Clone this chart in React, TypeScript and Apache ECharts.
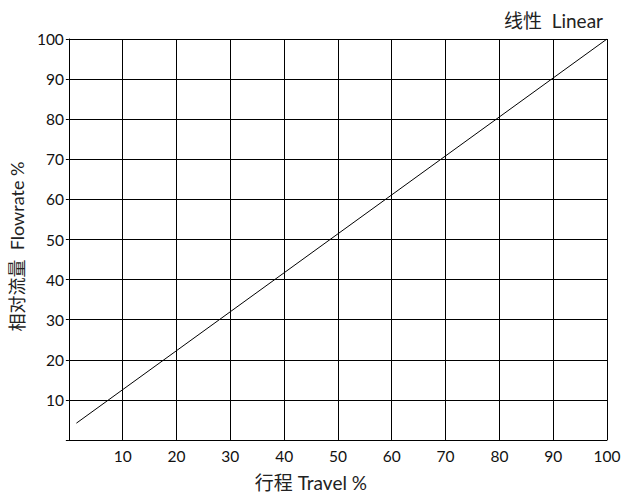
import React, { useEffect, useRef } from "react";
import * as echarts from "echarts";

const travel = [1.4, 100];
const flowrate = [4.2, 100];
const xTickLabels = ["10", "20", "30", "40", "50", "60", "70", "80", "90", "100"];
const yTickLabels = ["10", "20", "30", "40", "50", "60", "70", "80", "90", "100"];
const titleText = "线性  Linear";
const xName = "行程 Travel %";
const yName = "相对流量  Flowrate %";

const FONT = "Lato, 'Noto Sans CJK SC', sans-serif";

export default function App() {
  const ref = useRef<HTMLDivElement>(null);
  useEffect(() => {
    if (!ref.current) return;
    const chart = echarts.init(ref.current, null, { renderer: "svg" });
    const data = travel.map((x, i) => [x, flowrate[i]]);
    chart.setOption({
      animation: false,
      backgroundColor: "#ffffff",
      title: {
        text: titleText,
        right: 22,
        top: 6,
        textStyle: { fontFamily: FONT, fontSize: 19, fontWeight: "normal", color: "#222" },
      },
      grid: { left: 67, top: 39, right: 23, bottom: 57 },
      xAxis: {
        type: "value",
        min: 0,
        max: 100,
        interval: 10,
        name: xName,
        nameLocation: "middle",
        nameGap: 33,
        nameTextStyle: { fontFamily: FONT, fontSize: 19, color: "#222", padding: [0, 54, 0, 0] },
        axisLine: { show: true, lineStyle: { color: "#000", width: 1 } },
        axisTick: { show: false },
        splitLine: { show: true, lineStyle: { color: "#000", width: 1 } },
        axisLabel: {
          fontFamily: FONT,
          fontSize: 15.5,
          color: "#111",
          margin: 8,
          formatter: (v: number) => (xTickLabels.includes(String(v)) ? String(v) : ""),
        },
      },
      yAxis: {
        type: "value",
        min: 0,
        max: 100,
        interval: 10,
        name: yName,
        nameLocation: "middle",
        nameRotate: 90,
        nameGap: 34,
        nameTextStyle: { fontFamily: FONT, fontSize: 18, color: "#222", padding: [0, 14, 0, 0] },
        axisLine: { show: true, lineStyle: { color: "#000", width: 1 } },
        axisTick: { show: true, length: 3, lineStyle: { color: "#000" } },
        splitLine: { show: true, lineStyle: { color: "#000", width: 1 } },
        axisLabel: {
          fontFamily: FONT,
          fontSize: 15.5,
          color: "#111",
          margin: 5,
          formatter: (v: number) => (yTickLabels.includes(String(v)) ? String(v) : ""),
        },
      },
      series: [
        {
          type: "line",
          data,
          symbol: "none",
          lineStyle: { color: "#000", width: 1 },
        },
      ],
    });
    return () => chart.dispose();
  }, []);
  return <div ref={ref} style={{ width: 630, height: 497, position: "absolute", left: 0, top: 0 }} />;
}
